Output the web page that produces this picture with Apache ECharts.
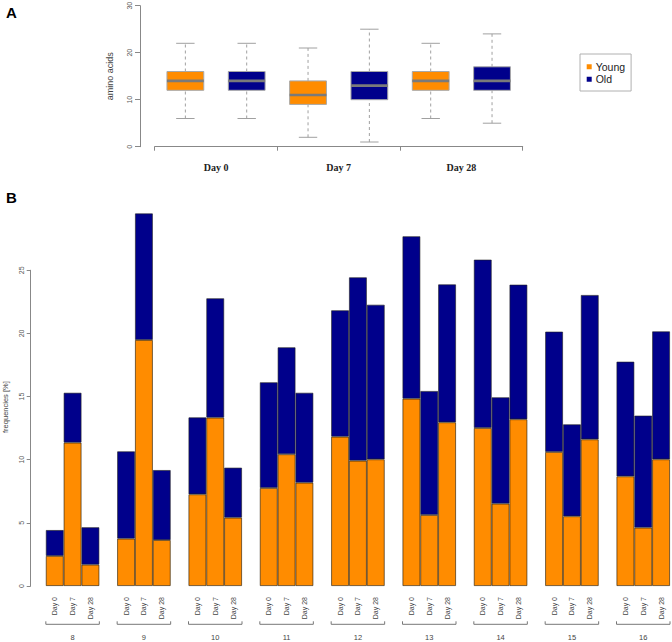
<!DOCTYPE html>
<html>
<head>
<meta charset="utf-8">
<script src="https://cdn.jsdelivr.net/npm/echarts@6.0.0/dist/echarts.min.js"></script>
<style>
html,body{margin:0;padding:0;background:#fff;}
#chart{width:672px;height:642px;}
</style>
</head>
<body>
<div id="chart"></div>
<script>
// ---------- Panel A data ----------
const dayLabels = ['Day 0', 'Day 7', 'Day 28'];
const seriesNames = ['Young', 'Old'];
// [min, q1, median, q3, max]
const boxYoung = [[6, 12, 14, 16, 22], [2, 9, 11, 14, 21], [6, 12, 14, 16, 22]];
const boxOld = [[6, 12, 14, 16, 22], [1, 10, 13, 16, 25], [5, 12, 14, 17, 24]];
const yTicksA = [0, 10, 20, 30];

// ---------- Panel B data ----------
const groups = ['8', '9', '10', '11', '12', '13', '14', '15', '16'];
const young = [
  [2.38, 11.35, 1.69],
  [3.75, 19.48, 3.64],
  [7.26, 13.33, 5.41],
  [7.76, 10.43, 8.18],
  [11.82, 9.92, 10.03],
  [14.83, 5.62, 12.96],
  [12.51, 6.52, 13.20],
  [10.61, 5.52, 11.61],
  [8.68, 4.62, 10.03]
];
const old = [
  [2.05, 3.95, 2.96],
  [6.91, 10.02, 5.54],
  [6.09, 9.45, 3.96],
  [8.37, 8.47, 7.12],
  [10.01, 14.52, 12.24],
  [12.86, 9.82, 10.92],
  [13.33, 8.42, 10.66],
  [9.53, 7.28, 11.43],
  [9.08, 8.87, 10.13]
];
const yTicksB = [0, 5, 10, 15, 20, 25];

const ORANGE = '#FF8C00';
const NAVY = '#00008B';

// build slot layout (blank slot + 3 days per group)
const slotLabels = [], youngSlots = [], oldSlots = [], groupSlotLabels = [], bracketData = [];
groups.forEach((g, gi) => {
  slotLabels.push(''); youngSlots.push('-'); oldSlots.push('-'); groupSlotLabels.push('');
  dayLabels.forEach((d, di) => {
    slotLabels.push(d);
    youngSlots.push(young[gi][di]);
    oldSlots.push(old[gi][di]);
    groupSlotLabels.push(di === 1 ? g : '');
  });
  bracketData.push([gi * 4 + 1, gi * 4 + 3, 0]);
});

function boxRender(shift) {
  return function (params, api) {
    const ci = api.value(0);
    const bw = api.size([1, 0])[0];
    const cMed = api.coord([ci, api.value(3)]);
    const cx = cMed[0] + shift * bw / 4;
    const w = bw * 0.3;
    const y = v => api.coord([ci, v])[1];
    const ymin = y(api.value(1)), yq1 = y(api.value(2)), ymed = cMed[1], yq3 = y(api.value(4)), ymax = y(api.value(5));
    const color = api.visual('color');
    const wh = { stroke: '#a0a0a0', lineWidth: 1, lineDash: [3, 3] };
    const cap = { stroke: '#a0a0a0', lineWidth: 1 };
    return {
      type: 'group',
      children: [
        { type: 'line', shape: { x1: cx, y1: ymin, x2: cx, y2: yq1 }, style: wh },
        { type: 'line', shape: { x1: cx, y1: yq3, x2: cx, y2: ymax }, style: wh },
        { type: 'line', shape: { x1: cx - w / 4, y1: ymin, x2: cx + w / 4, y2: ymin }, style: cap },
        { type: 'line', shape: { x1: cx - w / 4, y1: ymax, x2: cx + w / 4, y2: ymax }, style: cap },
        { type: 'rect', shape: { x: cx - w / 2, y: yq3, width: w, height: yq1 - yq3 }, style: { fill: color, stroke: '#a8a8a8', lineWidth: 1 } },
        { type: 'line', shape: { x1: cx - w / 2, y1: ymed, x2: cx + w / 2, y2: ymed }, style: { stroke: '#7a7a7a', lineWidth: 2.6 } }
      ]
    };
  };
}

const chart = echarts.init(document.getElementById('chart'), null, { renderer: 'svg' });

const option = {
  animation: false,
  backgroundColor: '#fff',
  textStyle: { fontFamily: 'Liberation Sans, Arial, sans-serif' },
  grid: [
    { left: 154.7, width: 368, top: 5.7, height: 141, containLabel: false, outerBoundsMode: 'none' },
    { left: 28, width: 642, top: 270.25, height: 315.75, containLabel: false, outerBoundsMode: 'none' }
  ],
  legend: {
    data: seriesNames,
    orient: 'vertical',
    left: 580,
    top: 54,
    icon: 'rect',
    itemWidth: 5,
    itemHeight: 5,
    itemGap: 1,
    padding: [7, 6, 6, 6.7],
    borderColor: '#b0b0b0',
    borderWidth: 1,
    textStyle: { fontSize: 10.5, color: '#222', padding: [0, 0, 0, -1], lineHeight: 11.5 }
  },
  graphic: [
    { type: 'text', left: 6, top: 5, style: { text: 'A', font: 'bold 15px "Liberation Sans", Arial, sans-serif', fill: '#000' } },
    { type: 'text', left: 6, top: 190, style: { text: 'B', font: 'bold 15px "Liberation Sans", Arial, sans-serif', fill: '#000' } }
  ],
  xAxis: [
    {
      gridIndex: 0, type: 'category', data: dayLabels, offset: 6.6,
      axisLine: { show: true, lineStyle: { color: '#888', width: 1 } },
      axisTick: { show: true, length: 4, lineStyle: { color: '#888' } },
      axisLabel: { margin: 9, fontFamily: 'Liberation Serif, Times New Roman, serif', fontWeight: 'bold', fontSize: 10, color: '#222' },
      splitLine: { show: false }
    },
    {
      gridIndex: 1, type: 'category', data: slotLabels,
      axisLine: { show: false }, axisTick: { show: false },
      axisLabel: { interval: 0, rotate: 90, fontSize: 7, margin: 11, color: '#444' },
      splitLine: { show: false }
    },
    {
      gridIndex: 1, type: 'category', data: groupSlotLabels, position: 'bottom',
      axisLine: { show: false }, axisTick: { show: false },
      axisLabel: { interval: 0, fontSize: 7.5, margin: 47, color: '#444' },
      splitLine: { show: false }
    }
  ],
  yAxis: [
    {
      gridIndex: 0, type: 'value', min: yTicksA[0], max: yTicksA[yTicksA.length - 1], interval: 10, offset: 14.7,
      axisLine: { show: true, lineStyle: { color: '#888' } },
      axisTick: { show: true, length: 5, lineStyle: { color: '#888' } },
      axisLabel: { rotate: 90, fontSize: 7, color: '#555', margin: 7 },
      splitLine: { show: false },
      name: 'amino acids', nameLocation: 'middle', nameGap: 26,
      nameTextStyle: { fontSize: 9, color: '#444' }
    },
    {
      gridIndex: 1, type: 'value', min: yTicksB[0], max: yTicksB[yTicksB.length - 1], interval: 5, offset: -2.7,
      axisLine: { show: true, lineStyle: { color: '#888' } },
      axisTick: { show: true, length: 4, lineStyle: { color: '#888' } },
      axisLabel: { rotate: 90, fontSize: 7, color: '#555', margin: 6 },
      splitLine: { show: false },
      name: 'frequencies [%]', nameLocation: 'middle', nameGap: 21,
      nameTextStyle: { fontSize: 7.5, color: '#444', padding: [0, 0, 0, 42] }
    }
  ],
  series: [
    {
      name: 'Young', type: 'custom', xAxisIndex: 0, yAxisIndex: 0,
      itemStyle: { color: ORANGE },
      renderItem: boxRender(-1),
      encode: { x: 0, y: [1, 2, 3, 4, 5] },
      data: boxYoung.map((b, i) => [i].concat(b))
    },
    {
      name: 'Old', type: 'custom', xAxisIndex: 0, yAxisIndex: 0,
      itemStyle: { color: NAVY },
      renderItem: boxRender(1),
      encode: { x: 0, y: [1, 2, 3, 4, 5] },
      data: boxOld.map((b, i) => [i].concat(b))
    },
    {
      name: 'Young', type: 'bar', xAxisIndex: 1, yAxisIndex: 1, stack: 'freq',
      barCategoryGap: '0%', clip: false,
      itemStyle: { color: ORANGE, borderColor: 'rgba(30,20,0,0.75)', borderWidth: 0.8 },
      data: youngSlots
    },
    {
      name: 'Old', type: 'bar', xAxisIndex: 1, yAxisIndex: 1, stack: 'freq',
      barCategoryGap: '0%', clip: false,
      itemStyle: { color: NAVY, borderColor: 'rgba(30,30,30,0.75)', borderWidth: 0.8 },
      data: oldSlots
    },
    {
      type: 'custom', xAxisIndex: 1, yAxisIndex: 1, clip: false, silent: true,
      encode: { x: [0, 1], y: 2 },
      renderItem: function (params, api) {
        const p1 = api.coord([api.value(0), 0]);
        const p3 = api.coord([api.value(1), 0]);
        const bw = api.size([1, 0])[0];
        const x1 = p1[0] - bw / 2, x2 = p3[0] + bw / 2;
        const yy = p1[1] + 38.3;
        return {
          type: 'polyline',
          shape: { points: [[x1, yy - 3], [x1, yy], [x2, yy], [x2, yy - 3]] },
          style: { stroke: '#777', lineWidth: 1, fill: null }
        };
      },
      data: bracketData
    }
  ]
};
chart.setOption(option);
</script>
</body>
</html>
